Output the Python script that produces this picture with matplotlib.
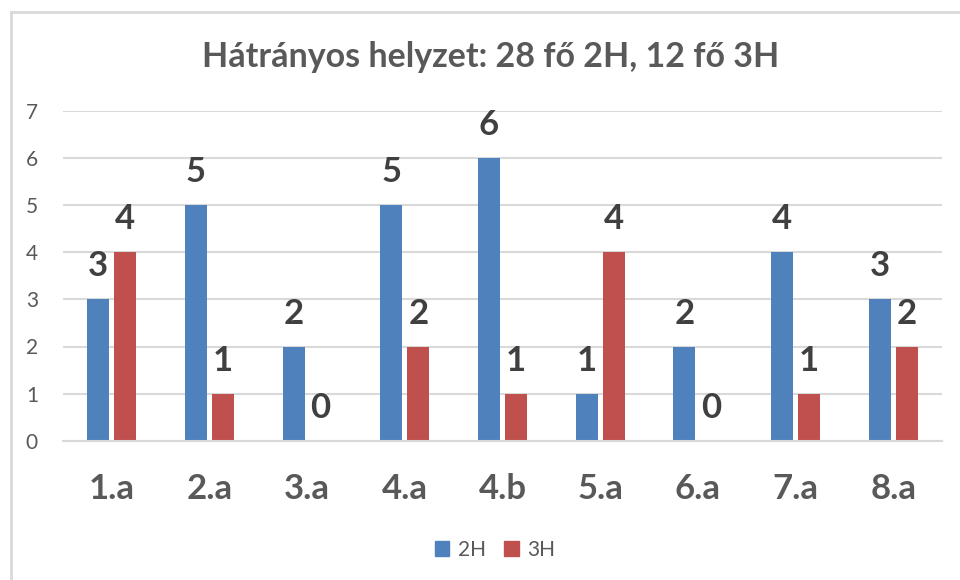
import matplotlib
matplotlib.use("Agg")
import matplotlib.pyplot as plt
import numpy as np
from matplotlib.patches import Patch
from matplotlib.lines import Line2D

plt.rcParams['font.family'] = ['Lato', 'DejaVu Sans']

# data
classes = ["1.a", "2.a", "3.a", "4.a", "4.b", "5.a", "6.a", "7.a", "8.a"]
h2 = [3, 5, 2, 5, 6, 1, 2, 4, 3]
h3 = [4, 1, 0, 2, 1, 4, 0, 1, 2]
series_names = ["2H", "3H"]
title = "Hátrányos helyzet: 28 fő 2H, 12 fő 3H"

blue = "#4F81BD"
red = "#C0504D"
dark = "#404040"
gray = "#595959"
grid = "#D9D9D9"

fig = plt.figure(figsize=(9.6, 5.8), dpi=100)
ax = fig.add_axes([63 / 960, 139.3 / 580, 879 / 960, 329.7 / 580])

x = np.arange(len(classes))
w = 0.225
off = 0.138
b1 = ax.bar(x - off, h2, w, color=blue, zorder=3)
b2 = ax.bar(x + off, h3, w, color=red, zorder=3)

for bars in (b1, b2):
    for rect in bars:
        v = rect.get_height()
        ax.annotate(f"{v:g}", (rect.get_x() + rect.get_width() / 2, v),
                    xytext=(0, 16.5), textcoords="offset points",
                    ha="center", va="baseline", fontsize=25,
                    fontweight="bold", color=dark, zorder=4)

ax.set_xlim(-0.5, len(classes) - 0.5)
ax.set_ylim(0, 7)
ax.set_yticks(range(0, 8))
ax.set_xticks(x)
ax.set_xticklabels(classes, fontsize=25, fontweight="bold", color=gray)
ax.tick_params(axis="x", length=0, pad=23)
ax.tick_params(axis="y", length=0, pad=18, labelsize=15, labelcolor=gray)
ax.grid(axis="y", color=grid, linewidth=1.5, zorder=0)
for s in ("top", "right", "left"):
    ax.spines[s].set_visible(False)
ax.spines["bottom"].set_color(grid)
ax.spines["bottom"].set_linewidth(1.5)
ax.spines["bottom"].set_zorder(3.5)

fig.text(491 / 960, 1 - 57 / 580, title, ha="center", va="center",
         fontsize=24.5, fontweight="bold", color=gray)

handles = [Patch(color=blue), Patch(color=red)]
fig.legend(handles, series_names, loc="center", bbox_to_anchor=(495 / 960, 1 - 550 / 580),
           ncol=2, frameon=False, fontsize=15, labelcolor=gray,
           handlelength=0.7, handleheight=0.7, handletextpad=0.4, columnspacing=0.9)

# chart border (only left and top edges fall inside the picture)
fig.add_artist(Line2D([11 / 960, 11 / 960], [0, 1 - 12 / 580], color=grid, linewidth=2))
fig.add_artist(Line2D([11 / 960, 1], [1 - 12 / 580, 1 - 12 / 580], color=grid, linewidth=2))

fig.savefig("out.png", dpi=100)
